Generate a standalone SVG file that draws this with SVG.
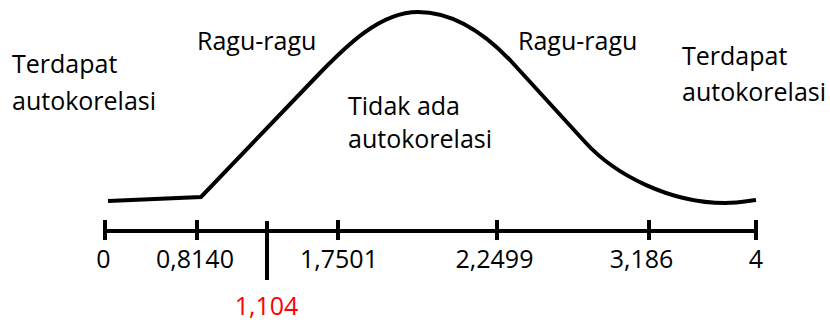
<svg xmlns="http://www.w3.org/2000/svg" width="830" height="322" viewBox="0 0 830 322">
<style>
text{font-family:"Open Sans","Noto Sans","Liberation Sans",sans-serif;font-size:25px;fill:#000}
.n{text-anchor:middle}
.red{fill:#FF0000}
.ln{stroke:#000;stroke-width:4;fill:none}
</style>
<rect width="830" height="322" fill="#fff"/>
<g id="curve">
<path class="ln" stroke-linejoin="miter" d="M108,201 L201,197 L318,75 C346,46 380,12 418,12 C450,12 482,31 510,60 L585,142 C615,175 670,203 725,203 C738,203 748,201 756,200"/>
</g>
<g id="axis">
<line class="ln" x1="105" y1="231" x2="756" y2="231"/>
<line class="ln" x1="105" y1="220" x2="105" y2="240"/>
<line class="ln" x1="197" y1="220" x2="197" y2="240"/>
<line class="ln" x1="338" y1="220" x2="338" y2="240"/>
<line class="ln" x1="497" y1="220" x2="497" y2="240"/>
<line class="ln" x1="649" y1="220" x2="649" y2="240"/>
<line class="ln" x1="756" y1="220" x2="756" y2="240"/>
<line class="ln" x1="267" y1="221" x2="267" y2="280"/>
</g>
<g id="axis-labels">
<text class="n" x="103.5" y="268">0</text>
<text class="n" x="195" y="268">0,8140</text>
<text class="n" x="339" y="268">1,7501</text>
<text class="n" x="494.5" y="268">2,2499</text>
<text class="n" x="641.5" y="268">3,186</text>
<text class="n" x="756" y="268">4</text>
<text class="n red" x="266.5" y="315">1,104</text>
</g>
<g id="region-left">
<text x="12" y="73">Terdapat</text>
<text x="12" y="110">autokorelasi</text>
</g>
<g id="region-ragu-left">
<text x="197" y="50">Ragu-ragu</text>
</g>
<g id="region-middle">
<text x="348" y="115">Tidak ada</text>
<text x="348" y="148">autokorelasi</text>
</g>
<g id="region-ragu-right">
<text x="518" y="50">Ragu-ragu</text>
</g>
<g id="region-right">
<text x="682" y="65">Terdapat</text>
<text x="682" y="101">autokorelasi</text>
</g>
</svg>
